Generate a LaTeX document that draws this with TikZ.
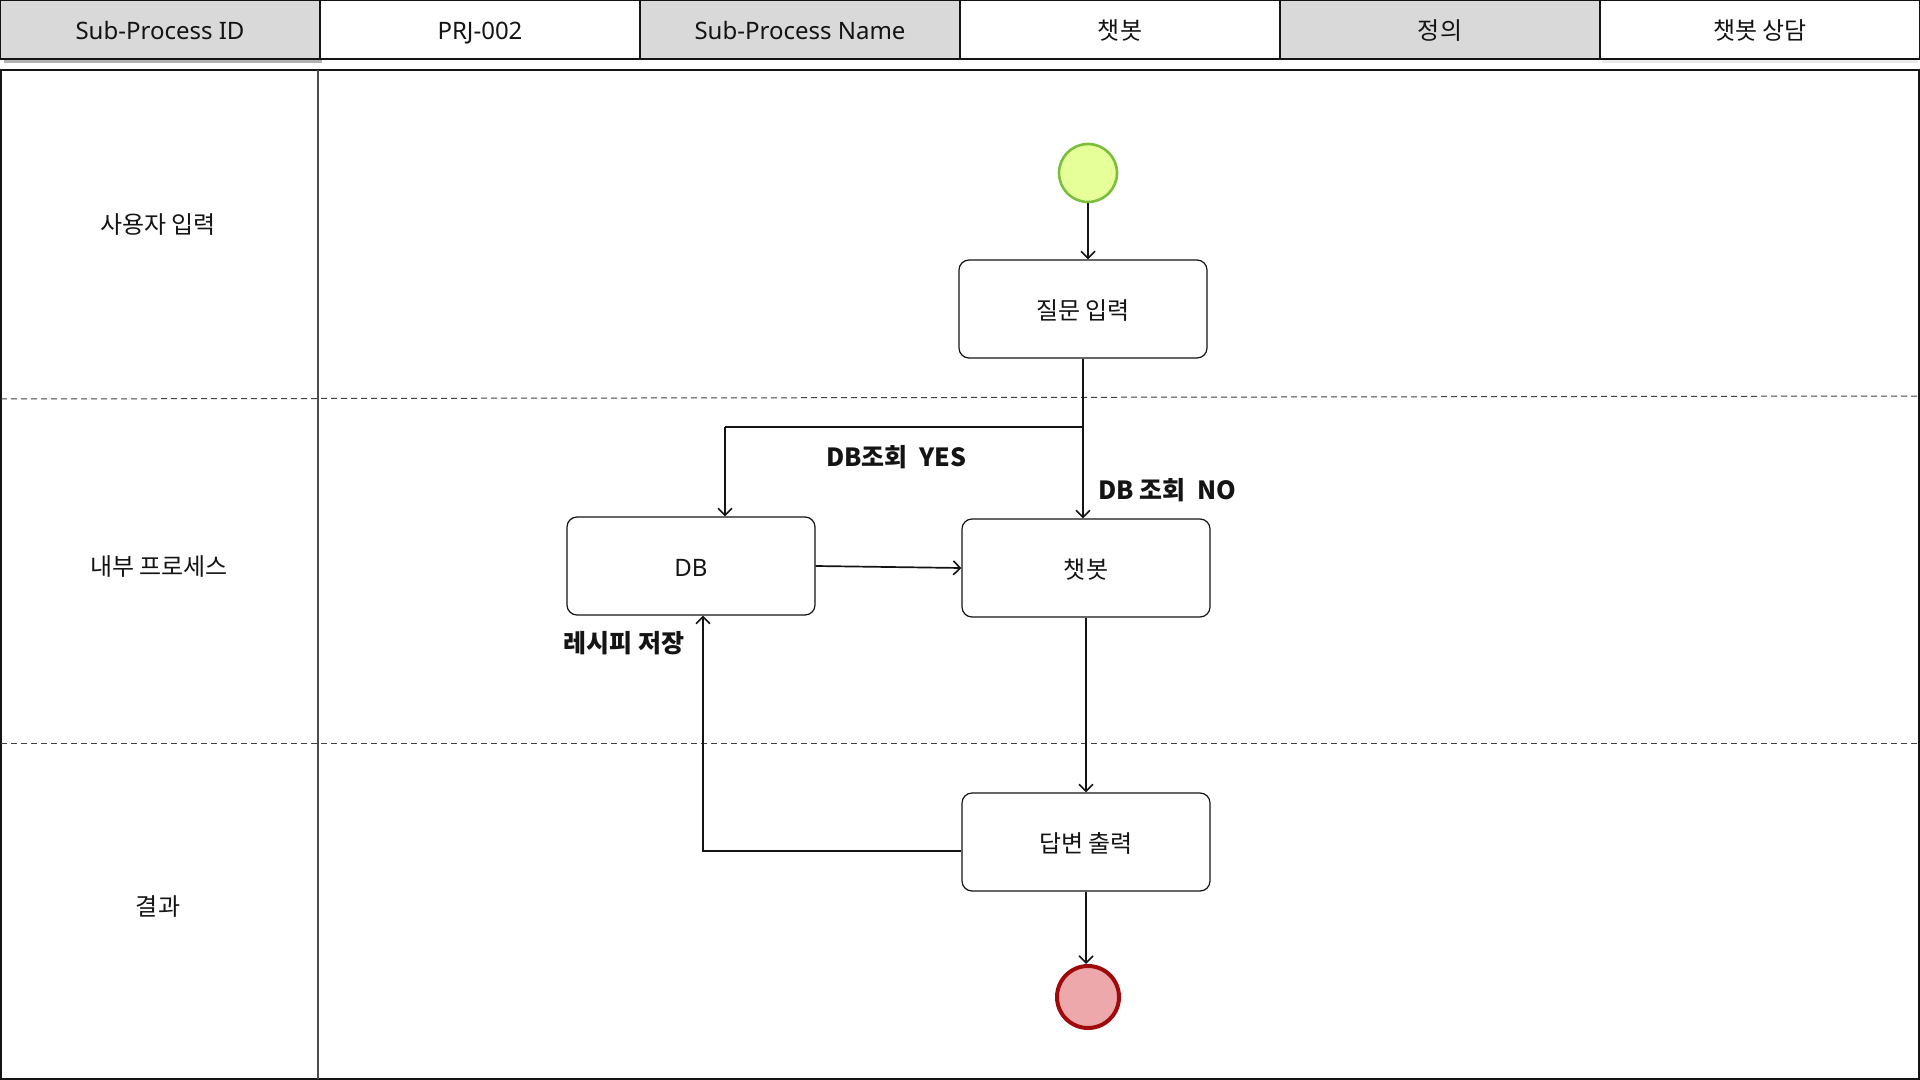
\documentclass[tikz,border=0pt]{standalone}
\usepackage{fontspec}
\setmainfont{Noto Sans CJK KR}
\newfontfamily\latinfont{Noto Sans}
\usetikzlibrary{arrows.meta,calc}

\definecolor{hdrgray}{RGB}{217,217,217}
\definecolor{startfill}{RGB}{230,255,153}
\definecolor{startline}{RGB}{122,190,60}
\definecolor{endfill}{RGB}{236,168,170}
\definecolor{endline}{RGB}{160,10,10}
\definecolor{inkc}{RGB}{20,20,20}

\newcommand{\lat}[1]{{\latinfont #1}}

\tikzset{
  hdrcell/.style={draw=inkc, line width=0.75pt, minimum width=160pt, minimum height=29.5pt,
    inner sep=0pt, text height=11.5pt, text depth=1.2pt,
    font=\fontsize{12pt}{14pt}\selectfont, text=inkc},
  hdrkey/.style={hdrcell, fill=hdrgray},
  hdrval/.style={hdrcell, fill=white},
  lanelabel/.style={font=\fontsize{12pt}{14pt}\selectfont, text=inkc},
  actbox/.style={draw=inkc, line width=0.6pt, rounded corners=5pt, fill=white,
    minimum width=124pt, minimum height=49pt, inner sep=0pt,
    text height=11.5pt, text depth=1.2pt,
    font=\fontsize{12pt}{14pt}\selectfont, text=inkc},
  startnode/.style={circle, draw=startline, fill=startfill, line width=1.3pt,
    minimum size=29pt, inner sep=0pt},
  endnode/.style={circle, draw=endline, fill=endfill, line width=2pt,
    minimum size=31pt, inner sep=0pt},
  flow/.style={draw=inkc, line width=0.85pt, -{Straight Barb[length=3.5pt,width=7pt,line width=0.8pt]}},
  flowplain/.style={draw=inkc, line width=0.85pt},
  edgelabel/.style={font=\bfseries\fontsize{12.5pt}{14pt}\selectfont, text=inkc},
  lanesep/.style={draw=black!75, line width=0.5pt, dash pattern=on 3pt off 2pt},
}

\begin{document}
\begin{tikzpicture}[x=0.5pt, y=-0.5pt]
\useasboundingbox (0,0) rectangle (1920,1080);

% header shadows
\fill[black!30] (4,58) rectangle (322,63);
\fill[black!8] (1602,58) rectangle (1918,63);

% header row
\node[hdrkey] (hid)   at (160,29.5)  {\lat{Sub-Process ID}};
\node[hdrval] (hidv)  at (480,29.5)  {\lat{PRJ-002}};
\node[hdrkey] (hname) at (800,29.5)  {\lat{Sub-Process Name}};
\node[hdrval] (hnamev) at (1120,29.5) {챗봇};
\node[hdrkey] (hdef)  at (1440,29.5) {정의};
\node[hdrval] (hdefv) at (1760,29.5) {챗봇 상담};

% swimlane frame
\draw[draw=inkc, line width=0.75pt] (1,70) rectangle (1919,1079);
\draw[draw=black!70, line width=0.75pt] (318,70) -- (318,1079);
\draw[lanesep] (1,399) -- (1919,396);
\draw[lanesep] (1,743) -- (1919,743);

% lane titles
\node[lanelabel] (lane1) at (158,225) {사용자 입력};
\node[lanelabel] (lane2) at (159,567) {내부 프로세스};
\node[lanelabel] (lane3) at (158,907) {결과};

% activities
\node[startnode] (start) at (1088,173) {};
\node[actbox] (ask) at (1083,309) {질문 입력};
\node[actbox] (db)  at (691,566)  {\lat{DB}};
\node[actbox] (bot) at (1086,568) {챗봇};
\node[actbox] (ans) at (1086,842) {답변 출력};
\node[endnode] (stop) at (1088,997) {};

% branch points
\coordinate (split) at (1083,427);
\coordinate (yesturn) at (725,427);

% connectors
\draw[flow] (start.south) -- (start.south |- ask.north);
\draw[flowplain] (ask.south) -- (split) -- (yesturn);
\draw[flow] (yesturn) -- (yesturn |- db.north);
\draw[flow] (split) -- (split |- bot.north);
\draw[flow] (db.east) -- (bot.west);
\draw[flow] (bot.south) -- (bot.south |- ans.north);
\draw[flow] ([yshift=-4.5pt]ans.west) -| ([xshift=6pt]db.south);
\draw[flow] (ans.south) -- (ans.south |- stop.north);

% branch labels
\node[edgelabel] (lyes) at (896,457) {DB조회\ \ YES};
\node[edgelabel] (lno) at (1167,490) {DB 조회\ \ NO};
\node[edgelabel] (lsave) at (624,643) {레시피 저장};
\end{tikzpicture}
\end{document}
